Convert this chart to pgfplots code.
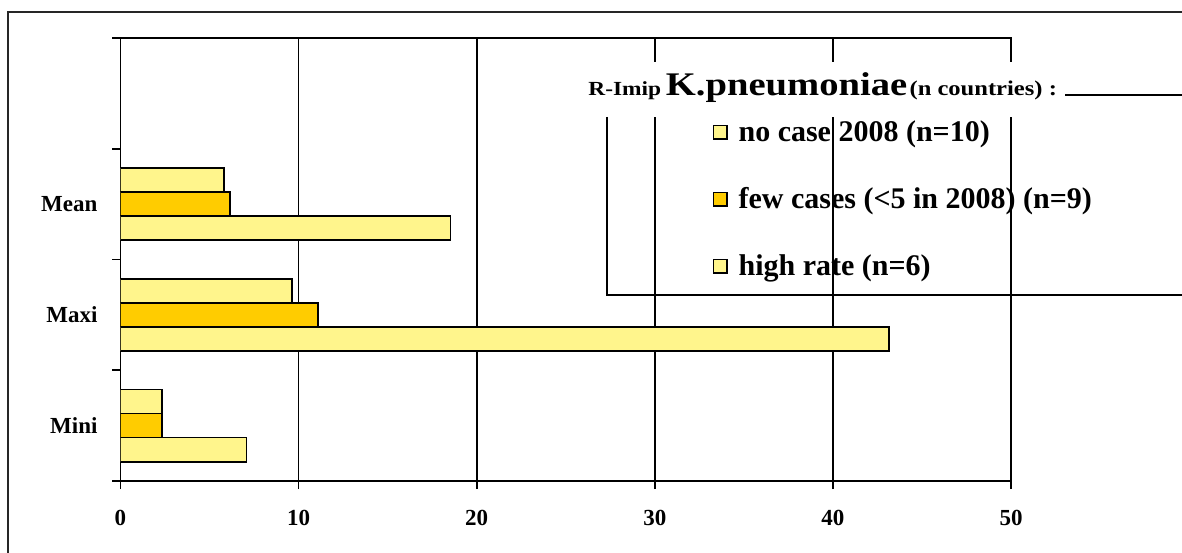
\documentclass[border=0pt]{standalone}
\usepackage{fontspec}
\setmainfont{Liberation Serif}
\usepackage{graphicx}
\usepackage{pgfplots}
\pgfplotsset{compat=1.18}
\definecolor{lightyel}{RGB}{255,245,140}
\definecolor{goldyel}{RGB}{255,204,0}
\newcommand\PX[2]{({(#1-120.5)*0.5pt},{(481-#2)*0.5pt})}
\begin{document}
\begin{tikzpicture}
\useasboundingbox \PX{0}{552} rectangle \PX{1182}{0};
\draw[line width=1pt, black!85] \PX{8}{560} -- \PX{8}{12} -- \PX{1190}{12};
\begin{axis}[
  at={(0,0)}, anchor=south west,
  scale only axis, width=445.25pt, height=221.5pt,
  xmin=0, xmax=50, ymin=0, ymax=4,
  xbar,
  legend image code/.code={\draw[#1, line width=0.65pt] (0pt,-3.4pt) rectangle (6.6pt,3.4pt);},
  xtick={0,10,20,30,40,50},
  ytick={0,1,2,3,4},
  yticklabels={Mini,Maxi,Mean,{},{}},
  y tick label as interval,
  tick pos=left, tick align=outside,
  major tick length=4pt,
  tick style={line width=0.9pt, black},
  xmajorgrids, grid style={line width=0.85pt, black},
  axis line style={line width=0.9pt},
  /pgf/number format/assume math mode=true,
  ticklabel style={font=\bfseries\fontsize{11.5}{12}\selectfont},
  xticklabel style={yshift=-7pt},
  yticklabel style={xshift=-4pt},
  legend style={at={(axis description cs:0.665,0.815)}, anchor=north west,
    draw=none, fill=none, inner sep=0pt, row sep=21.5pt,
    font=\bfseries\fontsize{15}{16}\selectfont,
    nodes={inner sep=0pt},
    /tikz/every odd column/.append style={column sep=5.5pt}},
  legend cell align=left,
]
\addplot[draw=black, line width=0.8pt, fill=lightyel, bar width=0.2172, bar shift=0.2172]
  coordinates {(2.33,0.5) (9.64,1.5) (5.80,2.5)};
\addplot[draw=black, line width=0.8pt, fill=goldyel, bar width=0.2172, bar shift=0]
  coordinates {(2.33,0.5) (11.09,1.5) (6.14,2.5)};
\addplot[draw=black, line width=0.8pt, fill=lightyel, bar width=0.2172, bar shift=-0.2172]
  coordinates {(7.08,0.5) (43.15,1.5) (18.54,2.5)};
\legend{no case 2008 (n=10), few cases (<5 in 2008) (n=9), high rate (n=6)}
\end{axis}
\draw[line width=1.3pt] \PX{113}{481} -- \PX{1011}{481};
\fill[white] \PX{583}{117} rectangle \PX{1190}{62};
\draw[line width=0.9pt] \PX{607}{117} -- \PX{607}{295} -- \PX{1190}{295};
\draw[line width=0.9pt] \PX{1065}{95} -- \PX{1190}{95};
\node[anchor=base west, inner sep=0pt] at \PX{588}{96}
  {\scalebox{1.17}[1]{\bfseries\fontsize{10}{11}\selectfont R-Imip\kern2pt{\fontsize{16.5}{17}\selectfont K.pneumoniae}\kern1pt{\fontsize{10.5}{11}\selectfont(n countries) :}}};
\end{tikzpicture}
\end{document}
